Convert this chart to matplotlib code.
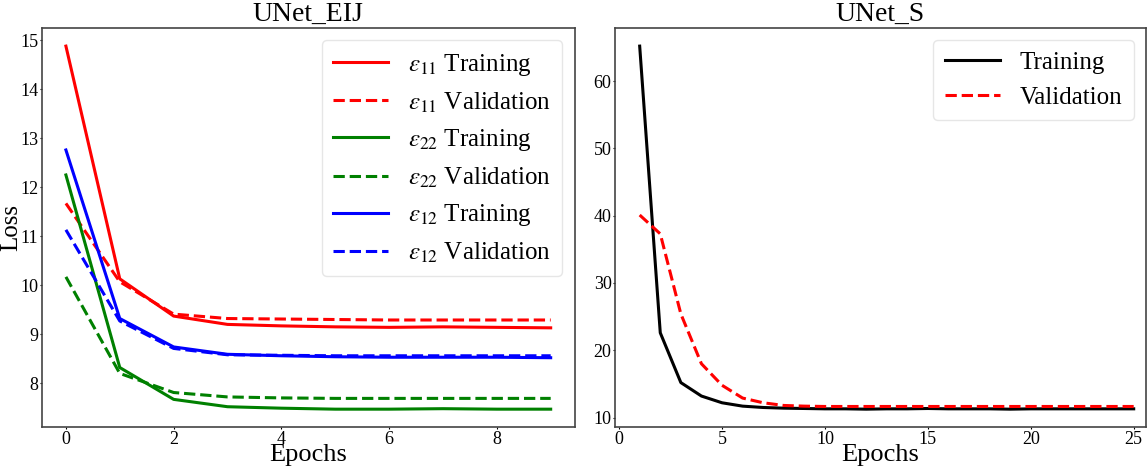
import matplotlib
matplotlib.use("Agg")
import matplotlib.pyplot as plt

plt.rcParams['font.family'] = ['Liberation Serif', 'DejaVu Serif']
plt.rcParams['mathtext.fontset'] = 'stix'

# ---- Data: UNet_EIJ ----
epochs_eij = [0, 1, 2, 3, 4, 5, 6, 7, 8, 9]
e11_train = [14.88, 10.13, 9.37, 9.20, 9.17, 9.15, 9.14, 9.15, 9.14, 9.13]
e11_val   = [11.67, 10.07, 9.41, 9.32, 9.31, 9.30, 9.29, 9.29, 9.29, 9.29]
e22_train = [12.25, 8.32, 7.67, 7.52, 7.49, 7.47, 7.47, 7.48, 7.47, 7.47]
e22_val   = [10.17, 8.20, 7.81, 7.72, 7.70, 7.69, 7.69, 7.69, 7.69, 7.69]
e12_train = [12.76, 9.32, 8.74, 8.59, 8.56, 8.54, 8.53, 8.53, 8.53, 8.52]
e12_val   = [11.13, 9.27, 8.71, 8.58, 8.57, 8.56, 8.56, 8.56, 8.56, 8.56]

# ---- Data: UNet_S ----
epochs_s = list(range(1, 26))
s_train = [65.2, 22.6, 15.2, 13.2, 12.2, 11.7, 11.5, 11.4, 11.35, 11.3,
           11.3, 11.25, 11.3, 11.3, 11.35, 11.3, 11.3, 11.3, 11.25, 11.3,
           11.3, 11.3, 11.3, 11.3, 11.3]
s_val = [40.1, 37.3, 25.4, 18.0, 14.8, 12.9, 12.2, 11.8, 11.7, 11.65,
         11.65, 11.65, 11.65, 11.65, 11.65, 11.65, 11.65, 11.65, 11.65, 11.65,
         11.65, 11.65, 11.65, 11.65, 11.65]

fig = plt.figure(figsize=(11.48, 4.66), dpi=100)
ax1 = fig.add_axes([0.0363, 0.083, 0.4645, 0.857])
ax2 = fig.add_axes([0.5357, 0.083, 0.4626, 0.857])

lw = 2.2
ax1.plot(epochs_eij, e11_train, color='red', lw=lw, label=r'$\varepsilon_{11}$ Training')
ax1.plot(epochs_eij, e11_val, color='red', lw=lw, ls='--', label=r'$\varepsilon_{11}$ Validation')
ax1.plot(epochs_eij, e22_train, color='green', lw=lw, label=r'$\varepsilon_{22}$ Training')
ax1.plot(epochs_eij, e22_val, color='green', lw=lw, ls='--', label=r'$\varepsilon_{22}$ Validation')
ax1.plot(epochs_eij, e12_train, color='blue', lw=lw, label=r'$\varepsilon_{12}$ Training')
ax1.plot(epochs_eij, e12_val, color='blue', lw=lw, ls='--', label=r'$\varepsilon_{12}$ Validation')

ax2.plot(epochs_s, s_train, color='black', lw=lw, label='Training')
ax2.plot(epochs_s, s_val, color='red', lw=lw, ls='--', label='Validation')
ax2.set_xlim(-0.2, 25.6)

for ax, title in ((ax1, 'UNet_EIJ'), (ax2, 'UNet_S')):
    ax.set_title(title, fontsize=20, pad=5)
    ax.set_xlabel('Epochs', fontsize=19, labelpad=-2.5)
    ax.tick_params(labelsize=13, length=1.5, width=0.8, colors='black',
                   labelcolor='black', pad=1)
    for s in ax.spines.values():
        s.set_color('#444444')
        s.set_linewidth(1.2)
    ax.legend(loc='upper right', fontsize=18, handlelength=2.2,
              framealpha=1.0, edgecolor='#e6e6e6', borderpad=0.45)

ax1.set_ylabel('Loss', fontsize=18)
ax1.yaxis.set_label_coords(-0.036, 0.5)

fig.savefig('out.png', dpi=100)
